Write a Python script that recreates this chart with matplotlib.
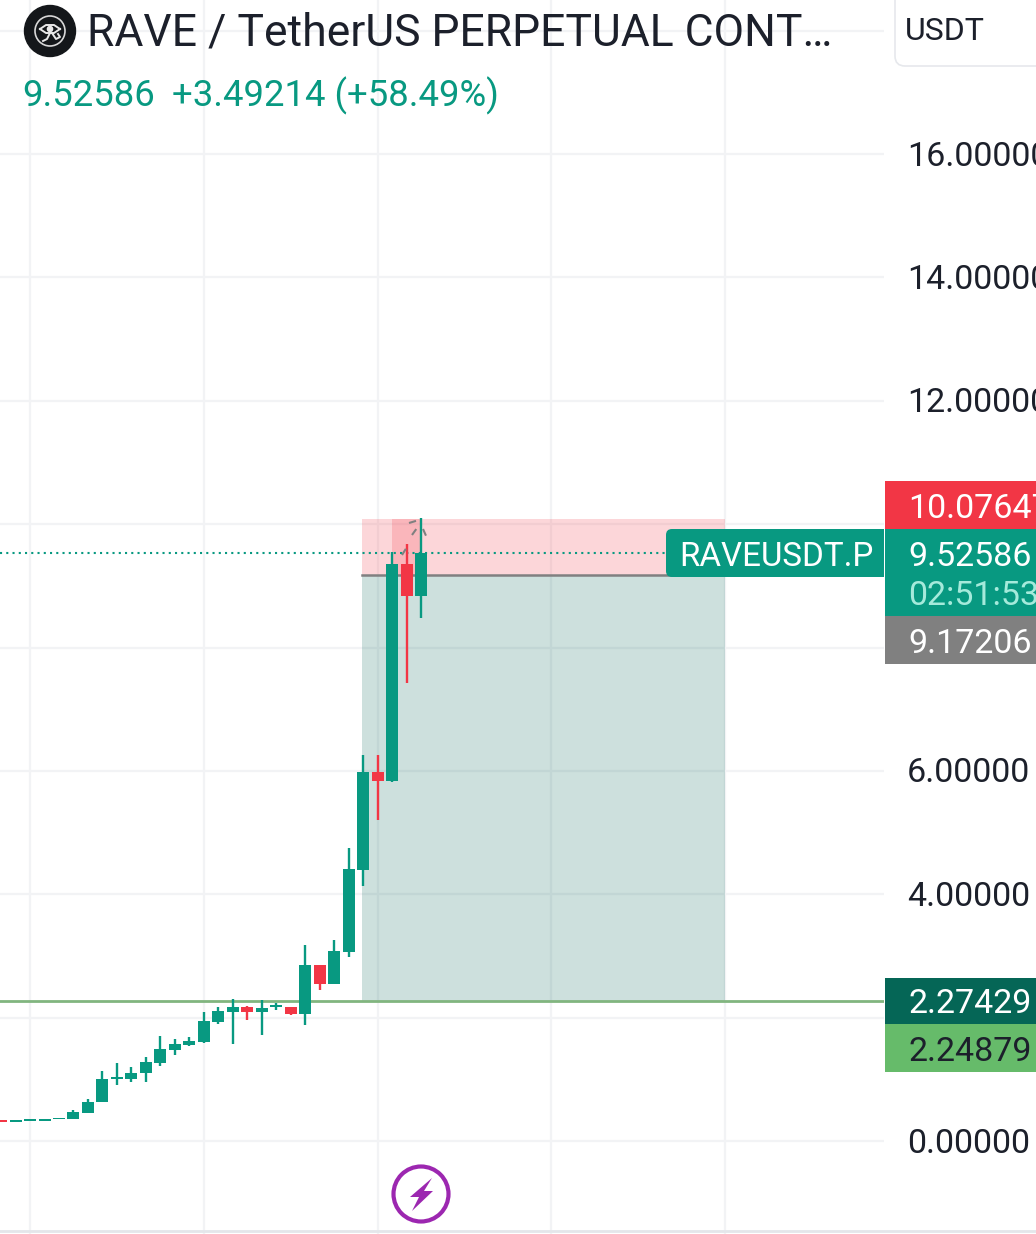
# plot.py
# RAVEUSDT.P candlestick chart in the look of a TradingView phone screenshot
import matplotlib
matplotlib.use("Agg")
import matplotlib.pyplot as plt
from matplotlib.patches import Circle, FancyBboxPatch, Polygon, Rectangle

plt.rcParams['font.family'] = ['Roboto', 'DejaVu Sans']

# Candles, oldest first
opens = [0.335, 0.308, 0.324, 0.324, 0.351, 0.351, 0.449, 0.632, 1.000, 1.000,
         1.097, 1.259, 1.470, 1.551, 1.600, 1.924, 2.092, 2.168, 2.092, 2.173,
         2.178, 2.059, 2.849, 2.546, 3.064, 4.394, 5.980, 5.837, 9.355, 8.836]
highs = [0.335, 0.335, 0.351, 0.362, 0.378, 0.497, 0.676, 1.130, 1.259, 1.205,
         1.368, 1.697, 1.649, 1.681, 2.086, 2.178, 2.297, 2.184, 2.281, 2.232,
         2.178, 3.173, 2.849, 3.254, 4.750, 6.258, 6.258, 9.550, 9.680, 10.100]
lows = [0.308, 0.308, 0.324, 0.324, 0.351, 0.351, 0.449, 0.632, 0.908, 0.951,
        0.951, 1.216, 1.389, 1.541, 1.584, 1.892, 1.573, 1.962, 1.714, 2.124,
        2.038, 1.881, 2.449, 2.546, 2.983, 4.134, 5.204, 5.820, 7.425, 8.480]
closes = [0.308, 0.335, 0.351, 0.362, 0.378, 0.465, 0.638, 1.000, 1.032, 1.108,
          1.276, 1.486, 1.568, 1.616, 1.941, 2.103, 2.168, 2.092, 2.151, 2.205,
          2.065, 2.849, 2.546, 3.076, 4.410, 5.980, 5.837, 9.355, 8.836, 9.52586]

last_price = 9.52586
stop_price = 10.0764
entry_price = 9.17206
target_price = 2.27429
position_start = 24.95
position_end = 50
touch_start = 27
touch_end = 29

grid_prices = [0, 2, 4, 6, 8, 10, 12, 14, 16, 18]
grid_candles = [2, 14, 26, 38, 50]
tick_prices = [0, 4, 6, 12, 14, 16]

# Colours
TEAL = '#089981'
RED = '#f23645'
GRID = '#f2f3f5'
TEXT = '#1c202b'

W, H = 1036, 1234
PANEL_X = 884
STEP = 14.48  # px between candles
LAST_X = 421
PX_PER_UNIT = 61.68
ZERO_Y = 1141

fig = plt.figure(figsize=(W / 100, H / 100), dpi=100, facecolor='white')

# Main price axes, left of the price panel
ax = fig.add_axes([0, 0, PANEL_X / W, 1])
ax.set_xlim(len(opens) - 1 - LAST_X / STEP, len(opens) - 1 + (PANEL_X - LAST_X) / STEP)
ax.set_ylim((ZERO_Y - H) / PX_PER_UNIT, ZERO_Y / PX_PER_UNIT)
ax.axis('off')

for p in grid_prices:
    ax.axhline(p, color=GRID, lw=1.6, zorder=1)
for c in grid_candles:
    ax.axvline(c, color=GRID, lw=1.6, zorder=1)

# Position tool
ax.add_patch(Rectangle((position_start, entry_price), position_end - position_start,
                       stop_price - entry_price, color=RED, alpha=0.2, lw=0, zorder=2))
ax.add_patch(Rectangle((touch_start, entry_price), touch_end - touch_start,
                       stop_price - entry_price, color=RED, alpha=0.2, lw=0, zorder=2))
ax.add_patch(Rectangle((position_start, target_price), position_end - position_start,
                       entry_price - target_price, color='#056656', alpha=0.2, lw=0, zorder=2))
ax.plot([position_start, position_end], [entry_price, entry_price], color='#808080', lw=1.8, zorder=3)

ax.axhline(target_price, color='#81b57f', lw=2, zorder=3)
ax.axhline(last_price, color=TEAL, lw=1.5, ls=(0, (1, 2)), zorder=3)

# Candles
for i in range(len(opens)):
    color = TEAL if closes[i] >= opens[i] else RED
    ax.vlines(i, lows[i], highs[i], color=color, lw=1.7, zorder=4)
    ax.bar(i, abs(closes[i] - opens[i]), bottom=min(opens[i], closes[i]), width=0.83,
           color=color, lw=0, zorder=5)

# Price axis labels
for p in tick_prices:
    ax.text(907 / PANEL_X, p + 0.015, '%.5f' % p, transform=ax.get_yaxis_transform(), ha='left',
            va='center_baseline', fontsize=24.5, color=TEXT, clip_on=False)

# Overlay in screen pixels for the interface parts
ui = fig.add_axes([0, 0, 1, 1], facecolor='none')
ui.set_xlim(0, W)
ui.set_ylim(H, 0)
ui.axis('off')

# Dashes around the last candle's tip
for (x0, y0, x1, y1) in [(409, 523, 419, 520), (412, 535, 417, 528), (423, 529, 427, 538), (402, 555, 407, 547)]:
    ui.plot([x0, x1], [y0, y1], color='#808080', lw=1.5, ls=(0, (3.5, 1.5)), zorder=6)

# Header
ui.add_patch(Circle((50, 31), 25.5, color='#14171a', zorder=7))
ui.add_patch(Circle((50, 31), 15, fill=False, ec='#d8d8d8', lw=1.2, zorder=8))
ui.plot([40, 46, 54, 60], [29, 25, 25, 29], color='#e8e8e8', lw=1.4, zorder=8)
ui.plot([40, 46, 54, 60], [29, 33, 33, 29], color='#e8e8e8', lw=1.4, zorder=8)
ui.plot([50, 47, 43], [33, 39, 41], color='#e8e8e8', lw=1.4, zorder=8)
ui.plot([52, 56, 60, 58], [33, 39, 37, 34], color='#e8e8e8', lw=1.4, zorder=8)
ui.add_patch(Circle((50, 29), 2.6, color='#e8e8e8', zorder=8))
ui.text(87, 29.5, 'RAVE / TetherUS PERPETUAL CONT…', fontsize=32, color=TEXT, va='center_baseline', zorder=8)
ui.text(22, 91.5, '9.52586', fontsize=26.3, color=TEAL, va='center_baseline', zorder=8)
ui.text(172, 91.5, '+3.49214 (+58.49%)', fontsize=26.3, color=TEAL, va='center_baseline', zorder=8)

# USDT button
ui.add_patch(FancyBboxPatch((895, -20), 170, 86, boxstyle='round,pad=0,rounding_size=10',
                            fc='white', ec='#e6e8ec', lw=1.2, zorder=7))
ui.text(905, 29, 'USDT', fontsize=23, color=TEXT, va='center_baseline', zorder=8)

# Symbol tag and price tags
ui.add_patch(FancyBboxPatch((666, 529), 225, 48, boxstyle='round,pad=0,rounding_size=6',
                            fc=TEAL, ec='none', zorder=7))
ui.text(679, 553.5, 'RAVEUSDT.P', fontsize=23.9, color='white', va='center_baseline', zorder=9)
ui.add_patch(Rectangle((883.5, 529), 1.5, 48, color='white', lw=0, zorder=7.5))

tags = [(481, 529, RED, '10.07647', 505.5, 'white'),
        (529, 616, TEAL, '9.52586', 553.5, 'white'),
        (616, 664, '#808080', '9.17206', 640.5, 'white'),
        (978, 1024, '#056656', '2.27429', 1000.5, 'white'),
        (1024, 1072, '#66bb6a', '2.24879', 1048.5, TEXT)]
for top, bottom, color, label, text_y, text_color in tags:
    ui.add_patch(Rectangle((885, top), W - 885, bottom - top, color=color, lw=0, zorder=8))
    ui.text(908, text_y, label, fontsize=24.5, color=text_color, va='center_baseline', zorder=9, clip_on=True)
ui.text(908, 592.5, '02:51:53', fontsize=24.5, color='#a5eadb', va='center_baseline', zorder=9, clip_on=True)

# Bottom edge and lightning badge
ui.plot([0, W], [1231, 1231], color='#e4e6ea', lw=2, zorder=6)
ui.add_patch(Circle((421, 1194), 27.5, fc='white', ec='#9c27b0', lw=3, zorder=8))
ui.add_patch(Polygon([(432, 1178), (410, 1197), (419, 1197), (412, 1211), (433, 1191), (424, 1191)],
                     closed=True, fc='#9c27b0', ec='none', zorder=9))

fig.savefig('out.png', dpi=100, facecolor='white')
